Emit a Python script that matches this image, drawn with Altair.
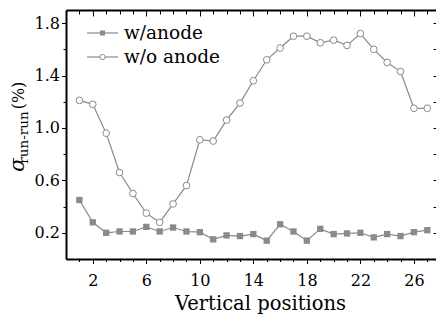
import altair as alt
import pandas as pd

# ---- data ----
positions = list(range(1, 28))
with_anode = [0.45, 0.28, 0.20, 0.21, 0.21, 0.245, 0.21, 0.24, 0.21, 0.205,
              0.15, 0.18, 0.175, 0.19, 0.14, 0.265, 0.21, 0.14, 0.23, 0.19,
              0.195, 0.20, 0.165, 0.19, 0.175, 0.205, 0.22]
without_anode = [1.21, 1.18, 0.96, 0.66, 0.50, 0.35, 0.28, 0.42, 0.56, 0.91,
                 0.90, 1.06, 1.19, 1.36, 1.52, 1.61, 1.70, 1.70, 1.65, 1.67,
                 1.63, 1.72, 1.60, 1.50, 1.43, 1.15, 1.15]
series_names = ["w/anode", "w/o anode"]
x_major_ticks = [2, 6, 10, 14, 18, 22, 26]
y_ticks = [0.2, 0.4, 0.6, 0.8, 1.0, 1.2, 1.4, 1.6, 1.8]
x_title = "Vertical positions"

FONT = "DejaVu Serif"
GRAY = "#8a8a8a"
W, H = 370, 249

df = pd.DataFrame({
    "pos": positions * 2,
    "val": with_anode + without_anode,
    "series": [series_names[0]] * len(positions) + [series_names[1]] * len(positions),
})
one = pd.DataFrame({"a": [0]})

xs = alt.Scale(domain=[0, 27.65], nice=False, zero=False)
ys = alt.Scale(domain=[0, 1.9], nice=False, zero=False)

x_bottom = alt.Axis(
    orient="bottom", values=positions, grid=False, domain=True, domainColor="black",
    domainWidth=2, tickColor="black", tickWidth=1,
    tickSize={"condition": {"test": "datum.value % 4 == 2", "value": 4.5}, "value": 2.5},
    labelExpr="datum.value % 4 == 2 ? datum.label : ''", labelOverlap=False,
    labelFont=FONT, labelFontSize=16, labelColor="black", labelPadding=9,
    title=x_title, titleFont=FONT, titleFontSize=19.5, titleFontWeight="normal",
    titleColor="black", titlePadding=6, titleX=194,
)
y_left = alt.Axis(
    orient="left", values=y_ticks, grid=False, domain=True, domainColor="black",
    domainWidth=2, tickColor="black", tickWidth=1,
    tickSize={"condition": {"test": "round(datum.value*10) % 4 == 2", "value": 4.5}, "value": 3},
    labelExpr="round(datum.value*10) % 4 == 2 ? format(datum.value, '.1f') : ''",
    labelOverlap=False, labelFont=FONT, labelFontSize=16, labelColor="black",
    labelPadding=2, title=None,
)

lines = alt.Chart(df).mark_line(color=GRAY, strokeWidth=1.2).encode(
    x=alt.X("pos:Q", scale=xs, axis=x_bottom),
    y=alt.Y("val:Q", scale=ys, axis=y_left),
    detail="series:N",
)

# top frame line (no ticks)
top_frame = alt.Chart(df).mark_line(opacity=0).encode(
    x=alt.X("pos:Q", scale=xs, axis=alt.Axis(orient="top", domain=True, domainColor="black",
            domainWidth=2, ticks=False, labels=False, grid=False, title=None)),
    y=alt.Y("val:Q", scale=ys, axis=None),
    detail="series:N",
)

squares = alt.Chart(df).transform_filter(
    alt.datum.series == series_names[0]
).mark_point(shape="square", filled=True, size=40, color=GRAY, opacity=1).encode(
    x=alt.X("pos:Q", scale=xs, axis=alt.Axis(orient="top", values=x_major_ticks, offset=-6,
            tickSize=6, tickColor="black", domain=False, labels=False, grid=False, title=None)),
    y=alt.Y("val:Q", scale=ys, axis=alt.Axis(orient="right", values=y_ticks, offset=-3,
            tickSize=3, tickColor="black", domain=False, labels=False, grid=False, title=None)),
)

circles = alt.Chart(df).transform_filter(
    alt.datum.series == series_names[1]
).mark_point(shape="circle", filled=True, fill="white", stroke=GRAY, strokeWidth=1,
             size=45, opacity=1).encode(
    x=alt.X("pos:Q", scale=xs, axis=alt.Axis(orient="top", values=positions, offset=-4,
            tickSize=4, tickColor="black", domain=False, labels=False, grid=False, title=None)),
    y=alt.Y("val:Q", scale=ys, axis=None),
)

# ---- legend ----
leg = []
for i, name in enumerate(series_names):
    yy = 23 + 24 * i
    leg.append(alt.Chart(one).mark_rule(color=GRAY, strokeWidth=1.2).encode(
        x=alt.value(21), x2=alt.value(52), y=alt.value(yy)))
    if i == 0:
        leg.append(alt.Chart(one).mark_point(shape="square", filled=True, size=25,
                                             color=GRAY, opacity=1).encode(
            x=alt.value(36.5), y=alt.value(yy)))
    else:
        leg.append(alt.Chart(one).mark_point(shape="circle", filled=True, fill="white",
                                             stroke=GRAY, strokeWidth=1, size=28,
                                             opacity=1).encode(
            x=alt.value(36.5), y=alt.value(yy)))
    leg.append(alt.Chart(one).mark_text(text=name, font=FONT, fontSize=18.5, align="left",
                                        baseline="middle", color="black").encode(
        x=alt.value(58), y=alt.value(yy)))

# ---- y title: sigma with subscript ----
ytitle = [
    alt.Chart(one).mark_text(text="σ", font=FONT, fontSize=20, fontStyle="italic",
                             angle=270, align="center", baseline="middle",
                             color="black").encode(x=alt.value(-48), y=alt.value(155)),
    alt.Chart(one).mark_text(text="run-run", font=FONT, fontSize=13.5, angle=270,
                             align="center", baseline="middle",
                             color="black").encode(x=alt.value(-42.5), y=alt.value(127.5)),
    alt.Chart(one).mark_text(text="(%)", font=FONT, fontSize=16, angle=270,
                             align="center", baseline="middle",
                             color="black").encode(x=alt.value(-47), y=alt.value(85.5)),
]

chart = alt.layer(lines, top_frame, squares, circles, *leg, *ytitle).resolve_axis(
    x="independent", y="independent"
).properties(
    width=W, height=H,
    autosize=alt.AutoSizeParams(type="none"),
    padding={"left": 66, "top": 10, "right": 0, "bottom": 62},
).configure_view(stroke=None).configure(background="white")

chart.save("out.html", embed_options={"renderer": "svg", "actions": False})
